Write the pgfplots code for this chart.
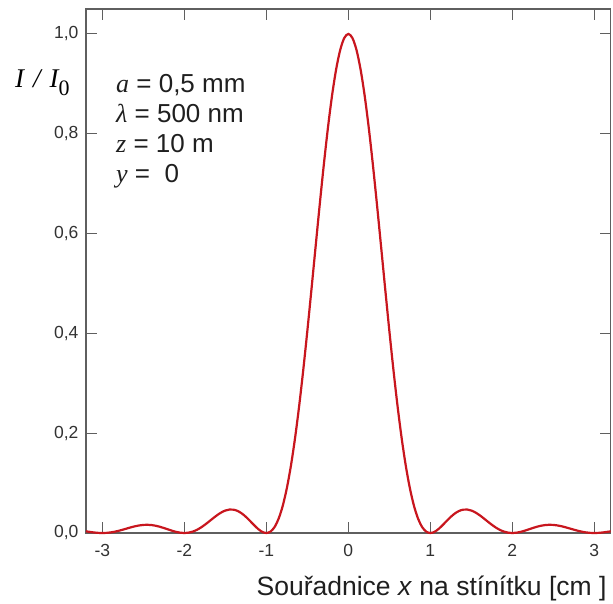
\documentclass[border=0pt]{standalone}
\usepackage{pgfplots}
\pgfplotsset{compat=1.18}
\usepackage{fontspec}
\setmainfont{Liberation Sans}
\newfontfamily\tnr{Liberation Serif}
\definecolor{axisgray}{RGB}{95,95,95}
\definecolor{labelgray}{RGB}{50,50,50}
\definecolor{curvered}{RGB}{200,22,30}
\begin{document}
\begin{tikzpicture}
\useasboundingbox (-86pt,-70pt) rectangle (527pt,533pt);
\begin{axis}[
  at={(0,0)}, anchor=south west,
  scale only axis, width=524.7pt, height=524pt,
  xmin=-3.2, xmax=3.2, ymin=0, ymax=1.05,
  xtick={-3,-2,-1,0,1,2,3},
  ytick={0,0.2,0.4,0.6,0.8,1.0},
  tick align=inside, major tick length=11pt,
  axis line style={draw=axisgray, line width=1.2pt},
  every tick/.style={axisgray, line width=1pt},
  tick label style={font=\fontsize{17.5}{20}\selectfont, text=labelgray},
  /pgf/number format/assume math mode=true,
  yticklabel style={/pgf/number format/.cd, fixed, fixed zerofill, precision=1, use comma, /tikz/.cd, xshift=-4pt},
  xticklabel style={yshift=-8pt},
  clip=false,
]
\addplot[curvered, line width=2.2pt, smooth] table {
x y
-3.20 0.00342
-3.15 0.00210
-3.10 0.00101
-3.05 0.00027
-3.00 0.00000
-2.95 0.00028
-2.90 0.00115
-2.85 0.00257
-2.80 0.00447
-2.75 0.00670
-2.70 0.00910
-2.65 0.01145
-2.60 0.01356
-2.55 0.01520
-2.50 0.01621
-2.45 0.01647
-2.40 0.01591
-2.35 0.01457
-2.30 0.01254
-2.25 0.01001
-2.20 0.00723
-2.15 0.00452
-2.10 0.00219
-2.05 0.00059
-2.00 0.00000
-1.95 0.00065
-1.90 0.00268
-1.85 0.00610
-1.80 0.01080
-1.75 0.01654
-1.70 0.02295
-1.65 0.02955
-1.60 0.03580
-1.55 0.04114
-1.50 0.04503
-1.45 0.04701
-1.40 0.04676
-1.35 0.04414
-1.30 0.03924
-1.25 0.03242
-1.20 0.02431
-1.15 0.01579
-1.10 0.00800
-1.05 0.00225
-1.00 0.00000
-0.95 0.00275
-0.90 0.01194
-0.85 0.02890
-0.80 0.05470
-0.75 0.09006
-0.70 0.13534
-0.65 0.19039
-0.60 0.25457
-0.55 0.32675
-0.50 0.40528
-0.45 0.48811
-0.40 0.57279
-0.35 0.65664
-0.30 0.73684
-0.25 0.81057
-0.20 0.87514
-0.15 0.92813
-0.10 0.96753
-0.05 0.99182
0.00 1.00000
0.05 0.99182
0.10 0.96753
0.15 0.92813
0.20 0.87514
0.25 0.81057
0.30 0.73684
0.35 0.65664
0.40 0.57279
0.45 0.48811
0.50 0.40528
0.55 0.32675
0.60 0.25457
0.65 0.19039
0.70 0.13534
0.75 0.09006
0.80 0.05470
0.85 0.02890
0.90 0.01194
0.95 0.00275
1.00 0.00000
1.05 0.00225
1.10 0.00800
1.15 0.01579
1.20 0.02431
1.25 0.03242
1.30 0.03924
1.35 0.04414
1.40 0.04676
1.45 0.04701
1.50 0.04503
1.55 0.04114
1.60 0.03580
1.65 0.02955
1.70 0.02295
1.75 0.01654
1.80 0.01080
1.85 0.00610
1.90 0.00268
1.95 0.00065
2.00 0.00000
2.05 0.00059
2.10 0.00219
2.15 0.00452
2.20 0.00723
2.25 0.01001
2.30 0.01254
2.35 0.01457
2.40 0.01591
2.45 0.01647
2.50 0.01621
2.55 0.01520
2.60 0.01356
2.65 0.01145
2.70 0.00910
2.75 0.00670
2.80 0.00447
2.85 0.00257
2.90 0.00115
2.95 0.00028
3.00 0.00000
3.05 0.00027
3.10 0.00101
3.15 0.00210
3.20 0.00342
};
\end{axis}
% y-axis label
\node[anchor=base west, inner sep=0pt, text=black] at (-71pt,445pt)
  {\fontsize{27}{30}\selectfont\tnr\itshape I\,\,/\,\,I\raisebox{-8pt}{\upshape\fontsize{22}{24}\selectfont 0}};
% parameters
\begin{scope}[every node/.style={anchor=base west, inner sep=0pt, text=black!88}]
\node at (30pt,440pt) {\fontsize{26}{30}\selectfont{\tnr\itshape a} = 0,5 mm};
\node at (30pt,410pt) {\fontsize{26}{30}\selectfont{\tnr\itshape\char"03BB} = 500 nm};
\node at (30pt,380pt) {\fontsize{26}{30}\selectfont{\tnr\itshape z} = 10 m};
\node at (30pt,350pt) {\fontsize{26}{30}\selectfont{\tnr\itshape y} = \ 0};
\end{scope}
% x-axis label
\node[anchor=base east, inner sep=0pt, text=black!88] at (520.7pt,-62pt)
  {\fontsize{26.5}{30}\selectfont Souřadnice \textit{x} na stínítku [cm ]};
\end{tikzpicture}
\end{document}
